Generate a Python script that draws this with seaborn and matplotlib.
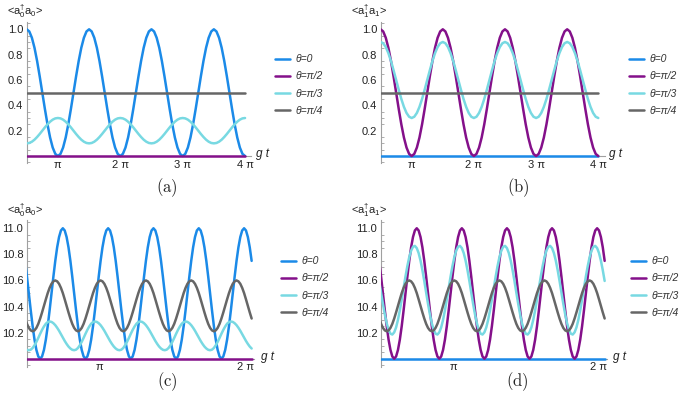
import numpy as np
import pandas as pd
import seaborn as sns
import matplotlib.pyplot as plt
from matplotlib.ticker import MultipleLocator

sns.set_theme(style="white")
plt.rcParams['font.family'] = ['Liberation Sans', 'DejaVu Sans']
plt.rcParams['mathtext.fontset'] = 'cm'

# ---- data ----
labels = ['θ=0', 'θ=π/2', 'θ=π/3', 'θ=π/4']
colors = ['#1b8ae8', '#84108a', '#78d9e2', '#666666']

# panels (a), (b): gt from π/2 to 4π, step π/24
gt_ab = np.linspace(0.5 * np.pi, 4 * np.pi, 85)
a_theta0 = [1.0, 0.983, 0.933, 0.854, 0.75, 0.629, 0.5, 0.371, 0.25, 0.146, 0.067, 0.017,
            0.0, 0.017, 0.067, 0.146, 0.25, 0.371, 0.5, 0.629, 0.75, 0.854, 0.933, 0.983,
            1.0, 0.983, 0.933, 0.854, 0.75, 0.629, 0.5, 0.371, 0.25, 0.146, 0.067, 0.017,
            0.0, 0.017, 0.067, 0.146, 0.25, 0.371, 0.5, 0.629, 0.75, 0.854, 0.933, 0.983,
            1.0, 0.983, 0.933, 0.854, 0.75, 0.629, 0.5, 0.371, 0.25, 0.146, 0.067, 0.017,
            0.0, 0.017, 0.067, 0.146, 0.25, 0.371, 0.5, 0.629, 0.75, 0.854, 0.933, 0.983,
            1.0, 0.983, 0.933, 0.854, 0.75, 0.629, 0.5, 0.371, 0.25, 0.146, 0.067, 0.017,
            0.0]
a_theta90 = [0.0] * 85
a_theta60 = [0.1, 0.103, 0.113, 0.129, 0.15, 0.174, 0.2, 0.226, 0.25, 0.271, 0.287, 0.297,
             0.3, 0.297, 0.287, 0.271, 0.25, 0.226, 0.2, 0.174, 0.15, 0.129, 0.113, 0.103,
             0.1, 0.103, 0.113, 0.129, 0.15, 0.174, 0.2, 0.226, 0.25, 0.271, 0.287, 0.297,
             0.3, 0.297, 0.287, 0.271, 0.25, 0.226, 0.2, 0.174, 0.15, 0.129, 0.113, 0.103,
             0.1, 0.103, 0.113, 0.129, 0.15, 0.174, 0.2, 0.226, 0.25, 0.271, 0.287, 0.297,
             0.3, 0.297, 0.287, 0.271, 0.25, 0.226, 0.2, 0.174, 0.15, 0.129, 0.113, 0.103,
             0.1, 0.103, 0.113, 0.129, 0.15, 0.174, 0.2, 0.226, 0.25, 0.271, 0.287, 0.297,
             0.3]
a_theta45 = [0.5] * 85

b_theta0 = [0.0] * 85
b_theta90 = a_theta0
b_theta60 = [0.9, 0.89, 0.86, 0.812, 0.75, 0.677, 0.6, 0.523, 0.45, 0.388, 0.34, 0.31,
             0.3, 0.31, 0.34, 0.388, 0.45, 0.523, 0.6, 0.677, 0.75, 0.812, 0.86, 0.89,
             0.9, 0.89, 0.86, 0.812, 0.75, 0.677, 0.6, 0.523, 0.45, 0.388, 0.34, 0.31,
             0.3, 0.31, 0.34, 0.388, 0.45, 0.523, 0.6, 0.677, 0.75, 0.812, 0.86, 0.89,
             0.9, 0.89, 0.86, 0.812, 0.75, 0.677, 0.6, 0.523, 0.45, 0.388, 0.34, 0.31,
             0.3, 0.31, 0.34, 0.388, 0.45, 0.523, 0.6, 0.677, 0.75, 0.812, 0.86, 0.89,
             0.9, 0.89, 0.86, 0.812, 0.75, 0.677, 0.6, 0.523, 0.45, 0.388, 0.34, 0.31,
             0.3]
b_theta45 = [0.5] * 85

# panels (c), (d): gt from ~π/2 to ~2.04π
gt_cd = np.linspace(0.4888 * np.pi, 2.0438 * np.pi, 121)
c_theta0 = [10.75, 10.629, 10.5, 10.371, 10.25, 10.146, 10.067, 10.017, 10.0, 10.017, 10.067, 10.146,
            10.25, 10.371, 10.5, 10.629, 10.75, 10.854, 10.933, 10.983, 11.0, 10.983, 10.933, 10.854,
            10.75, 10.629, 10.5, 10.371, 10.25, 10.146, 10.067, 10.017, 10.0, 10.017, 10.067, 10.146,
            10.25, 10.371, 10.5, 10.629, 10.75, 10.854, 10.933, 10.983, 11.0, 10.983, 10.933, 10.854,
            10.75, 10.629, 10.5, 10.371, 10.25, 10.146, 10.067, 10.017, 10.0, 10.017, 10.067, 10.146,
            10.25, 10.371, 10.5, 10.629, 10.75, 10.854, 10.933, 10.983, 11.0, 10.983, 10.933, 10.854,
            10.75, 10.629, 10.5, 10.371, 10.25, 10.146, 10.067, 10.017, 10.0, 10.017, 10.067, 10.146,
            10.25, 10.371, 10.5, 10.629, 10.75, 10.854, 10.933, 10.983, 11.0, 10.983, 10.933, 10.854,
            10.75, 10.629, 10.5, 10.371, 10.25, 10.146, 10.067, 10.017, 10.0, 10.017, 10.067, 10.146,
            10.25, 10.371, 10.5, 10.629, 10.75, 10.854, 10.933, 10.983, 11.0, 10.983, 10.933, 10.854,
            10.75]
c_theta90 = [10.0] * 121
c_theta60 = [10.078, 10.068, 10.065, 10.069, 10.082, 10.103, 10.129, 10.159, 10.191, 10.221, 10.247, 10.268,
             10.281, 10.285, 10.282, 10.272, 10.257, 10.237, 10.214, 10.188, 10.162, 10.136, 10.113, 10.093,
             10.078, 10.068, 10.065, 10.069, 10.082, 10.103, 10.129, 10.159, 10.191, 10.221, 10.247, 10.268,
             10.281, 10.285, 10.282, 10.272, 10.257, 10.237, 10.214, 10.188, 10.162, 10.136, 10.113, 10.093,
             10.078, 10.068, 10.065, 10.069, 10.082, 10.103, 10.129, 10.159, 10.191, 10.221, 10.247, 10.268,
             10.281, 10.285, 10.282, 10.272, 10.257, 10.237, 10.214, 10.188, 10.162, 10.136, 10.113, 10.093,
             10.078, 10.068, 10.065, 10.069, 10.082, 10.103, 10.129, 10.159, 10.191, 10.221, 10.247, 10.268,
             10.281, 10.285, 10.282, 10.272, 10.257, 10.237, 10.214, 10.188, 10.162, 10.136, 10.113, 10.093,
             10.078, 10.068, 10.065, 10.069, 10.082, 10.103, 10.129, 10.159, 10.191, 10.221, 10.247, 10.268,
             10.281, 10.285, 10.282, 10.272, 10.257, 10.237, 10.214, 10.188, 10.162, 10.136, 10.113, 10.093,
             10.078]
c_theta45 = [10.308, 10.267, 10.236, 10.217, 10.21, 10.217, 10.236, 10.267, 10.308, 10.355, 10.405, 10.455,
             10.503, 10.543, 10.574, 10.593, 10.6, 10.593, 10.574, 10.543, 10.503, 10.455, 10.405, 10.355,
             10.308, 10.267, 10.236, 10.217, 10.21, 10.217, 10.236, 10.267, 10.308, 10.355, 10.405, 10.455,
             10.503, 10.543, 10.574, 10.593, 10.6, 10.593, 10.574, 10.543, 10.503, 10.455, 10.405, 10.355,
             10.308, 10.267, 10.236, 10.217, 10.21, 10.217, 10.236, 10.267, 10.308, 10.355, 10.405, 10.455,
             10.503, 10.543, 10.574, 10.593, 10.6, 10.593, 10.574, 10.543, 10.503, 10.455, 10.405, 10.355,
             10.308, 10.267, 10.236, 10.217, 10.21, 10.217, 10.236, 10.267, 10.308, 10.355, 10.405, 10.455,
             10.503, 10.543, 10.574, 10.593, 10.6, 10.593, 10.574, 10.543, 10.503, 10.455, 10.405, 10.355,
             10.308, 10.267, 10.236, 10.217, 10.21, 10.217, 10.236, 10.267, 10.308, 10.355, 10.405, 10.455,
             10.503, 10.543, 10.574, 10.593, 10.6, 10.593, 10.574, 10.543, 10.503, 10.455, 10.405, 10.355,
             10.308]

d_theta0 = [10.0] * 121
d_theta90 = c_theta0
d_theta60 = [10.596, 10.507, 10.42, 10.34, 10.272, 10.222, 10.192, 10.185, 10.202, 10.24, 10.298, 10.371,
             10.454, 10.543, 10.63, 10.71, 10.778, 10.828, 10.858, 10.865, 10.848, 10.81, 10.752, 10.679,
             10.596, 10.507, 10.42, 10.34, 10.272, 10.222, 10.192, 10.185, 10.202, 10.24, 10.298, 10.371,
             10.454, 10.543, 10.63, 10.71, 10.778, 10.828, 10.858, 10.865, 10.848, 10.81, 10.752, 10.679,
             10.596, 10.507, 10.42, 10.34, 10.272, 10.222, 10.192, 10.185, 10.202, 10.24, 10.298, 10.371,
             10.454, 10.543, 10.63, 10.71, 10.778, 10.828, 10.858, 10.865, 10.848, 10.81, 10.752, 10.679,
             10.596, 10.507, 10.42, 10.34, 10.272, 10.222, 10.192, 10.185, 10.202, 10.24, 10.298, 10.371,
             10.454, 10.543, 10.63, 10.71, 10.778, 10.828, 10.858, 10.865, 10.848, 10.81, 10.752, 10.679,
             10.596, 10.507, 10.42, 10.34, 10.272, 10.222, 10.192, 10.185, 10.202, 10.24, 10.298, 10.371,
             10.454, 10.543, 10.63, 10.71, 10.778, 10.828, 10.858, 10.865, 10.848, 10.81, 10.752, 10.679,
             10.596]
d_theta45 = c_theta45

ab_yticks = [0.2, 0.4, 0.6, 0.8, 1.0]
cd_yticks = [10.2, 10.4, 10.6, 10.8, 11.0]
ab_xticks = ['π', '2 π', '3 π', '4 π']
cd_xticks = ['π', '2 π']

W, H = 685, 404
fig = plt.figure(figsize=(W / 100, H / 100), dpi=100)


def px_axes(left, right, top, bottom):
    return fig.add_axes([left / W, 1 - bottom / H, (right - left) / W, (bottom - top) / H])


panels = [
    dict(box=(26.7, 251.3, 21.7, 163), x=gt_ab, xlim=(0.5, 4.1), ylim=(-0.055, 1.06), base=0.0,
         ys=[a_theta0, a_theta90, a_theta60, a_theta45], yt=ab_yticks, xt=ab_xticks,
         lab=r'<$\mathregular{a_0^{\dagger}a_0}$>', labpos=(7, 11), leg=(275, 85), gt=(256, 154),
         cap='(a)', cappos=(167, 188)),
    dict(box=(380.6, 604.5, 21.7, 163), x=gt_ab, xlim=(0.5, 4.1), ylim=(-0.055, 1.06), base=0.0,
         ys=[b_theta0, b_theta90, b_theta60, b_theta45], yt=ab_yticks, xt=ab_xticks,
         lab=r'<$\mathregular{a_1^{\dagger}a_1}$>', labpos=(351, 11), leg=(629, 85), gt=(609, 154),
         cap='(b)', cappos=(518, 188)),
    dict(box=(26.7, 254, 219.8, 366.5), x=gt_cd, xlim=(0.5, 2.06), ylim=(9.94, 11.065), base=10.0,
         ys=[c_theta0, c_theta90, c_theta60, c_theta45], yt=cd_yticks, xt=cd_xticks,
         lab=r'<$\mathregular{a_0^{\dagger}a_0}$>', labpos=(7, 210), leg=(281, 287), gt=(261, 357),
         cap='(c)', cappos=(167, 382)),
    dict(box=(380.8, 607, 219.8, 366.5), x=gt_cd, xlim=(0.5, 2.06), ylim=(9.94, 11.065), base=10.0,
         ys=[d_theta0, d_theta90, d_theta60, d_theta45], yt=cd_yticks, xt=cd_xticks,
         lab=r'<$\mathregular{a_1^{\dagger}a_1}$>', labpos=(351, 210), leg=(631, 287), gt=(613, 357),
         cap='(d)', cappos=(517, 382)),
]

axis_col = '#a0a0a0'
for p in panels:
    ax = px_axes(*p['box'])
    for lab, col, y in zip(labels, colors, p['ys']):
        df = pd.DataFrame({'gt': p['x'], 'v': y})
        sns.lineplot(data=df, x='gt', y='v', ax=ax, color=col, lw=1.8, label=lab,
                     sort=False, zorder=3)
    ax.set_xlim(p['xlim'][0] * np.pi, p['xlim'][1] * np.pi)
    ax.set_ylim(*p['ylim'])
    ax.set_xlabel('')
    ax.set_ylabel('')
    for s in ['top', 'right']:
        ax.spines[s].set_visible(False)
    ax.spines['bottom'].set_position(('data', p['base']))
    for s in ['left', 'bottom']:
        ax.spines[s].set_color(axis_col)
        ax.spines[s].set_linewidth(0.8)
    n = len(p['xt'])
    ax.set_xticks([np.pi * (i + 1) for i in range(n)])
    ax.set_xticklabels(p['xt'])
    ax.set_yticks(p['yt'])
    ax.set_yticklabels(['%.1f' % v for v in p['yt']])
    ax.yaxis.set_minor_locator(MultipleLocator(0.05))
    ax.tick_params(which='both', direction='in', color=axis_col, width=0.6,
                   labelsize=8, labelcolor='#222222', pad=2.5)
    ax.tick_params(which='major', length=3.5)
    ax.tick_params(which='minor', length=2, left=True)
    ax.patch.set_alpha(0)
    leg = ax.legend(loc='center left', bbox_to_anchor=(p['leg'][0] / W, 1 - p['leg'][1] / H),
                    bbox_transform=fig.transFigure, frameon=False, fontsize=7.5,
                    handlelength=1.4, handletextpad=0.6, labelspacing=0.68,
                    borderpad=0, borderaxespad=0)
    for t in leg.get_texts():
        t.set_fontstyle('italic')
        t.set_color('#333333')
    fig.text(p['labpos'][0] / W, 1 - p['labpos'][1] / H, p['lab'], fontsize=8,
             color='#222222', va='center', ha='left')
    fig.text(p['gt'][0] / W, 1 - p['gt'][1] / H, 'g t', fontsize=8.5, style='italic',
             color='#222222', va='center', ha='left')
    fig.text(p['cappos'][0] / W, 1 - p['cappos'][1] / H, r'$\mathrm{%s}$' % p['cap'],
             fontsize=12, color='#222222', va='center', ha='center')

fig.savefig('out.png', dpi=100)
